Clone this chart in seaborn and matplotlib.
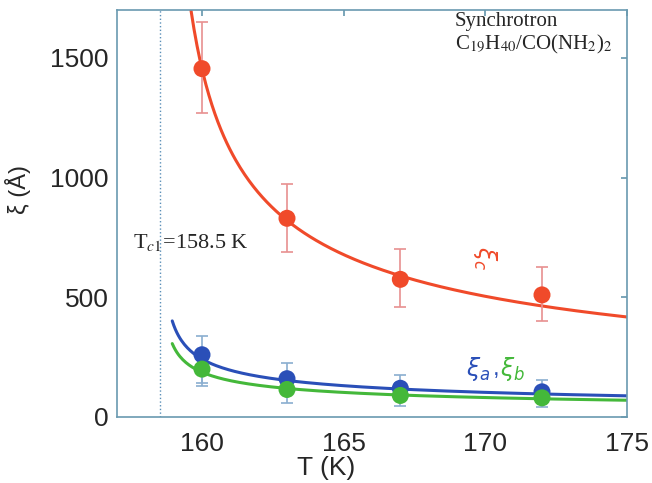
import numpy as np
import pandas as pd
import matplotlib
matplotlib.use("Agg")
import matplotlib.pyplot as plt
import seaborn as sns

# measured points
T_pts = [160, 163, 167, 172]
xi_c = [1455, 830, 575, 510]
xi_c_lo = [1270, 690, 460, 400]
xi_c_hi = [1650, 975, 700, 625]
xi_a = [260, 160, 120, 105]
xi_a_lo = [140, 95, 70, 60]
xi_a_hi = [340, 225, 175, 155]
xi_b = [200, 115, 90, 80]
xi_b_lo = [130, 60, 45, 40]
xi_b_hi = [260, 170, 140, 120]

# fitted power-law parameters xi = A (T - Tc)^(-nu)
Tc1 = 158.5
fit_A = [1795, 287, 221]
fit_nu = [0.52, 0.42, 0.41]
fit_Tstart = [159.3, 158.95, 158.95]

xticks = [160, 165, 170, 175]
yticks = [0, 500, 1000, 1500]

sns.set_theme(style="white")
plt.rcParams["font.family"] = ["Liberation Sans", "DejaVu Sans"]
plt.rcParams["mathtext.fontset"] = "dejavusans"

fig = plt.figure(figsize=(6.52, 4.83), dpi=100)
ax = fig.add_axes([117/652, 1-417/483, (627-117)/652, (417-10)/483])

red = "#f04a2a"
blue = "#2a4fb8"
green = "#44b83a"
cols = [red, blue, green]
ebcols = ["#e89090", "#8aaed0", "#8aaed0"]

for A, nu, Ts, c in zip(fit_A, fit_nu, fit_Tstart, cols):
    T = np.linspace(Ts, 175, 300)
    df = pd.DataFrame({"T": T, "xi": A * (T - Tc1) ** (-nu)})
    sns.lineplot(data=df, x="T", y="xi", color=c, lw=2.2, ax=ax, zorder=2)

for y, lo, hi, c, ec in [(xi_c, xi_c_lo, xi_c_hi, red, ebcols[0]),
                         (xi_a, xi_a_lo, xi_a_hi, blue, ebcols[1]),
                         (xi_b, xi_b_lo, xi_b_hi, green, ebcols[2])]:
    y = np.array(y); lo = np.array(lo); hi = np.array(hi)
    ax.errorbar(T_pts, y, yerr=[y - lo, hi - y], fmt="none", ecolor=ec,
                elinewidth=1.2, capsize=4, capthick=1.2, zorder=3)
    sns.scatterplot(x=T_pts, y=y, color=c, s=150, edgecolor="none", ax=ax, zorder=4)

ax.axvline(Tc1, color="#5a8fb8", lw=1, ls=":", zorder=1)

ax.set_xlim(157, 175)
ax.set_ylim(0, 1700)
ax.set_xticks(xticks)
ax.set_yticks(yticks)
ax.tick_params(labelsize=19, direction="in", length=4, color="#6a9ab0",
               top=True, right=True)
ax.tick_params(axis="x", pad=11)
ax.tick_params(axis="y", pad=6)
for s in ax.spines.values():
    s.set_color("#6a9ab0")
    s.set_linewidth(1.2)
ax.set_xlabel("T (K)", fontsize=19, va="center")
ax.xaxis.set_label_coords(0.41, -0.125)
ax.set_ylabel("ξ (Å)", fontsize=17, va="center")
ax.yaxis.set_label_coords(-0.194, 0.558)

serif = ["Liberation Serif", "DejaVu Serif"]
ax.text(168.93, 1650, "Synchrotron", fontsize=15, family=serif, va="center")
ax.text(168.93, 1554, r"C$_{19}$H$_{40}$/CO(NH$_2$)$_2$", fontsize=15, family=serif,
        math_fontfamily="stix", va="center")
ax.text(157.55, 727, r"T$_{c1}$=158.5 K", fontsize=16, family=serif,
        math_fontfamily="stix", va="center")
ax.text(170.0, 664, r"$\xi_c$", fontsize=17, color=red, rotation=-90,
        ha="center", va="center")
ax.text(169.3, 200, r"$\xi_a$", fontsize=17, color=blue, va="center")
ax.text(170.25, 200, ",", fontsize=17, color=blue, va="center")
ax.text(170.5, 200, r"$\xi_b$", fontsize=17, color=green, va="center")

fig.savefig("out.png", dpi=100)
